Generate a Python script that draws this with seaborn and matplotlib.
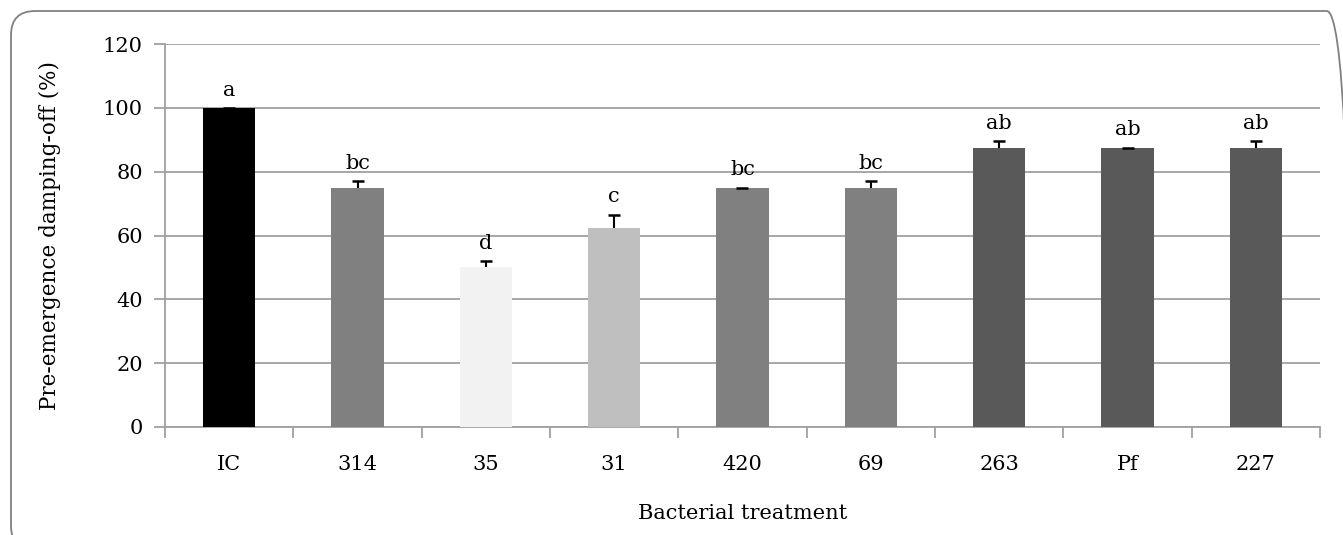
import numpy as np
import pandas as pd
import matplotlib.pyplot as plt
import seaborn as sns
from matplotlib.patches import FancyBboxPatch

# ==============================
# DATI
# ==============================
treatments = ["IC", "314", "35", "31", "420", "69", "263", "Pf", "227"]
damping_off = [100, 75, 50, 62.5, 75, 75, 87.5, 87.5, 87.5]
errors = [0, 2, 2, 4, 0, 2, 2, 0, 2]
letters = ["a", "bc", "d", "c", "bc", "bc", "ab", "ab", "ab"]
bar_colors = ["#000000", "#808080", "#f2f2f2", "#bfbfbf", "#808080",
              "#808080", "#595959", "#595959", "#595959"]

df = pd.DataFrame({"treatment": treatments, "value": damping_off})

# ==============================
# GRAFICO
# ==============================
sns.set_style("white")
plt.rcParams["font.family"] = ["DejaVu Serif"]
plt.rcParams["text.color"] = "black"
plt.rcParams["axes.labelcolor"] = "black"
plt.rcParams["xtick.color"] = "black"
plt.rcParams["ytick.color"] = "black"

W, H = 1343, 535
fig = plt.figure(figsize=(W / 100, H / 100), dpi=100)
ax = fig.add_axes([165 / W, 1 - 427 / H, 1155 / W, 383 / H])

sns.barplot(
    data=df, x="treatment", y="value", hue="treatment",
    palette=bar_colors, width=0.41, legend=False, ax=ax,
    saturation=1, linewidth=0, zorder=3
)

x = np.arange(len(treatments))
eb = ax.errorbar(x, damping_off, yerr=[np.zeros(len(errors)), errors],
                 fmt="none", ecolor="black", elinewidth=1.5, capsize=4.5,
                 capthick=1.8, zorder=4)
# solo il cappuccio superiore
eb[1][0].set_visible(False)

for xi, v, e, lab in zip(x, damping_off, errors, letters):
    ax.annotate(lab, (xi, v + e), xytext=(0, 6), textcoords="offset points",
                ha="center", va="bottom", fontsize=15)

ax.set_ylim(0, 120)
ax.set_yticks(range(0, 121, 20))
ax.set_xlim(-0.5, len(treatments) - 0.5)
ax.yaxis.grid(True, color="#a0a0a0", linewidth=1.3, zorder=0)
ax.set_axisbelow(True)

for side in ["top", "right"]:
    ax.spines[side].set_visible(False)
for side in ["left", "bottom"]:
    ax.spines[side].set_color("#a0a0a0")
    ax.spines[side].set_linewidth(1.3)

# tick x tra le categorie
ax.set_xticks(x)
ax.set_xticks(np.arange(-0.5, len(treatments), 1), minor=True)
ax.tick_params(axis="x", which="major", bottom=False, length=0, pad=20, labelsize=15)
ax.tick_params(axis="x", which="minor", bottom=True, length=8, color="#a0a0a0", width=1.3)
ax.tick_params(axis="y", left=True, length=8, color="#a0a0a0", width=1.3,
               labelsize=15, pad=8, labelcolor="black")

ax.set_xlabel("Bacterial treatment", fontsize=15, labelpad=22)
ax.set_ylabel("Pre-emergence damping-off (%)", fontsize=15.5, labelpad=30)

# cornice arrotondata
frame = FancyBboxPatch((11 / W, 1 - 550 / H), 1340 / W, 539 / H,
                       boxstyle="round,pad=0,rounding_size=0.018",
                       transform=fig.transFigure, fill=False,
                       edgecolor="#808080", linewidth=1.3,
                       mutation_aspect=W / H, clip_on=False)
fig.patches.append(frame)

fig.savefig("out.png", dpi=100)
